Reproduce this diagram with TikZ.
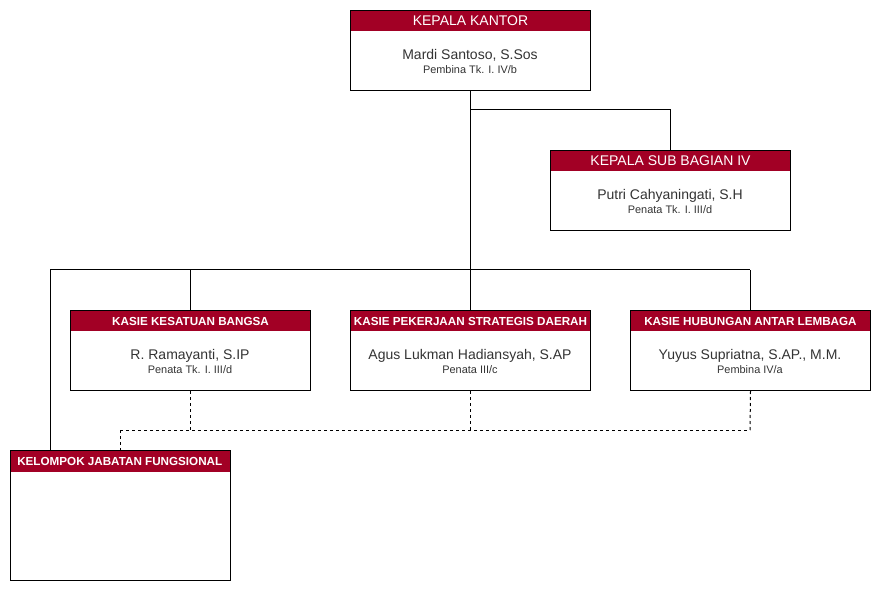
\documentclass[tikz,border=0pt]{standalone}
\usepackage{fontspec}
\setmainfont{Liberation Sans}
\definecolor{hdr}{HTML}{A20025}
\definecolor{txt}{HTML}{333333}
\begin{document}
\begin{tikzpicture}[x=0.75pt,y=-0.75pt,
  box/.style={draw=black,line width=0.75pt,anchor=north west,minimum width=#1,minimum height=60pt,inner sep=0pt},
  box/.default=180pt,
  hbox/.style={fill=hdr,draw=hdr,line width=0.75pt,anchor=north west,minimum width=#1,minimum height=15pt,inner sep=0pt,text=white},
  hbox/.default=180pt,
  bigh/.style={font=\fontsize{10.5}{12}\selectfont},
  smallh/.style={font=\bfseries\fontsize{8.75}{10}\selectfont},
  body/.style={align=center,text=txt,font=\fontsize{10.5}{12.5}\selectfont,inner sep=0pt},
  conn/.style={draw=black,line width=0.75pt},
  dconn/.style={conn,dash pattern=on 2.25pt off 2.25pt}]
\useasboundingbox (0,0) rectangle (881,591);

% Kepala Kantor
\node[hbox,bigh] (kkh) at (350,10.5) {KEPALA KANTOR};
\node[box] (kk) at (350,10) {};
\node[body] (kkt) at (470,61.5) {Mardi Santoso, S.Sos\\[-1.5pt]{\fontsize{8.2}{9.5}\selectfont Pembina Tk. I. IV/b}};

% Kepala Sub Bagian IV
\node[hbox,bigh] (ksbh) at (550,150.5) {KEPALA SUB BAGIAN IV};
\node[box] (ksb) at (550,150) {};
\node[body] (ksbt) at (670,201.5) {Putri Cahyaningati, S.H\\[-1.5pt]{\fontsize{8.2}{9.5}\selectfont Penata Tk. I. III/d}};

% Kasie Kesatuan Bangsa
\node[hbox,smallh] (kkbh) at (70,310.5) {KASIE KESATUAN BANGSA};
\node[box] (kkb) at (70,310) {};
\node[body] (kkbt) at (190,361.5) {R. Ramayanti, S.IP\\[-1.5pt]{\fontsize{8.2}{9.5}\selectfont Penata Tk. I. III/d}};

% Kasie Pekerjaan Strategis Daerah
\node[hbox,smallh] (kpsh) at (350,310.5) {KASIE PEKERJAAN STRATEGIS DAERAH};
\node[box] (kps) at (350,310) {};
\node[body] (kpst) at (470,361.5) {Agus Lukman Hadiansyah, S.AP\\[-1.5pt]{\fontsize{8.2}{9.5}\selectfont Penata III/c}};

% Kasie Hubungan Antar Lembaga
\node[hbox,smallh] (khah) at (630,310.5) {KASIE HUBUNGAN ANTAR LEMBAGA};
\node[box] (kha) at (630,310) {};
\node[body] (khat) at (750,361.5) {Yuyus Supriatna, S.AP., M.M.\\[-1.5pt]{\fontsize{8.2}{9.5}\selectfont Pembina IV/a}};

% Kelompok Jabatan Fungsional
\node[hbox=165pt] (kjfh) at (10,450.5) {};
\node[smallh,text=white,anchor=west,inner sep=0pt] (kjft) at ([xshift=5.25pt]kjfh.west) {KELOMPOK JABATAN FUNGSIONAL};
\node[box=165pt,minimum height=97.5pt] (kjf) at (10,450) {};

% solid connectors
\coordinate (j1) at (470,110);
\coordinate (bl) at (50,270);
\coordinate (br) at (750,270);
\coordinate (kjfin) at (50,450);
\draw[conn] (kk.south) -- (kps.north);
\draw[conn] (j1) -| (ksb.north);
\draw[conn] (bl) -- (br);
\draw[conn] (kkb.north) -- (kkb.north |- bl);
\draw[conn] (kha.north) -- (kha.north |- br);
\draw[conn] (bl) -- (kjfin);

% dashed connectors
\coordinate (dl) at (120,430);
\coordinate (dr) at (750,430);
\draw[dconn] (kkb.south) -- (kkb.south |- dl);
\draw[dconn] (kps.south) -- (kps.south |- dl);
\draw[dconn] (kha.south) -- (dr);
\draw[dconn] (dl) -- (dr);
\draw[dconn] (dl) -- (kjf.north -| dl);
\end{tikzpicture}
\end{document}
